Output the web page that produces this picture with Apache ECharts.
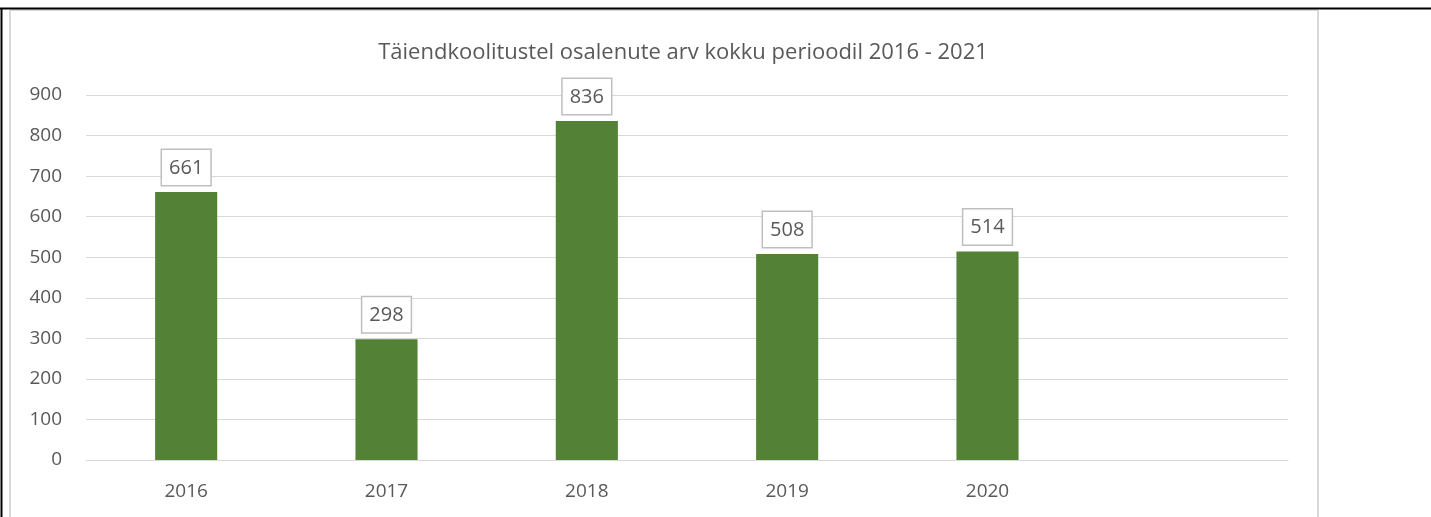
<!DOCTYPE html>
<html>
<head>
<meta charset="utf-8">
<script src="https://cdn.jsdelivr.net/npm/echarts@6/dist/echarts.min.js"></script>
<style>
  html, body { margin: 0; padding: 0; background: #fff; }
  #chart { width: 1431px; height: 517px; }
</style>
</head>
<body>
<div id="chart"></div>
<script>
// andmed
var years = ['2016', '2017', '2018', '2019', '2020', ''];
var osalejad = [661, 298, 836, 508, 514, null];
var yTicks = [0, 100, 200, 300, 400, 500, 600, 700, 800, 900];

var chart = echarts.init(document.getElementById('chart'));
var txtColor = '#595959';
var fontFam = 'Open Sans';

chart.setOption({
    animation: false,
    title: {
        text: 'Täiendkoolitustel osalenute arv kokku perioodil 2016 - 2021',
        left: 678,
        top: 37,
        textAlign: 'center',
        textStyle: { fontFamily: fontFam, fontSize: 22, fontWeight: 'normal', color: txtColor }
    },
    grid: { left: 86, right: 1431 - 1288, top: 95, bottom: 517 - 460 },
    xAxis: {
        type: 'category',
        data: years,
        axisLine: { lineStyle: { color: '#d9d9d9', width: 1 } },
        axisTick: { show: false },
        axisLabel: { fontFamily: fontFam, fontSize: 19, color: txtColor, margin: 22 }
    },
    yAxis: {
        type: 'value',
        min: yTicks[0],
        max: yTicks[yTicks.length - 1],
        interval: 100,
        axisLine: { show: false },
        axisTick: { show: false },
        splitLine: { lineStyle: { color: '#d9d9d9', width: 1 } },
        axisLabel: { fontFamily: fontFam, fontSize: 19, color: txtColor, margin: 24 }
    },
    series: [{
        type: 'bar',
        data: osalejad,
        barWidth: '31%',
        itemStyle: { color: '#538135' },
        label: {
            show: true,
            position: 'top',
            distance: 7,
            fontFamily: fontFam,
            fontSize: 20,
            color: txtColor,
            backgroundColor: '#fff',
            borderColor: '#bfbfbf',
            borderWidth: 1.5,
            padding: [8, 7, 7, 7]
        }
    }],
    graphic: [
        { type: 'line', shape: { x1: 10, y1: 10, x2: 10, y2: 517 }, style: { stroke: '#d9d9d9', lineWidth: 2 } },
        { type: 'line', shape: { x1: 10, y1: 10, x2: 1318, y2: 10 }, style: { stroke: '#d9d9d9', lineWidth: 2 } },
        { type: 'line', shape: { x1: 1318, y1: 10, x2: 1318, y2: 517 }, style: { stroke: '#d9d9d9', lineWidth: 2 } },
        { type: 'line', shape: { x1: 0, y1: 8.5, x2: 1431, y2: 8.5 }, style: { stroke: '#000', lineWidth: 2 } },
        { type: 'line', shape: { x1: 1.5, y1: 8, x2: 1.5, y2: 517 }, style: { stroke: '#000', lineWidth: 2 } }
    ]
});
</script>
</body>
</html>
